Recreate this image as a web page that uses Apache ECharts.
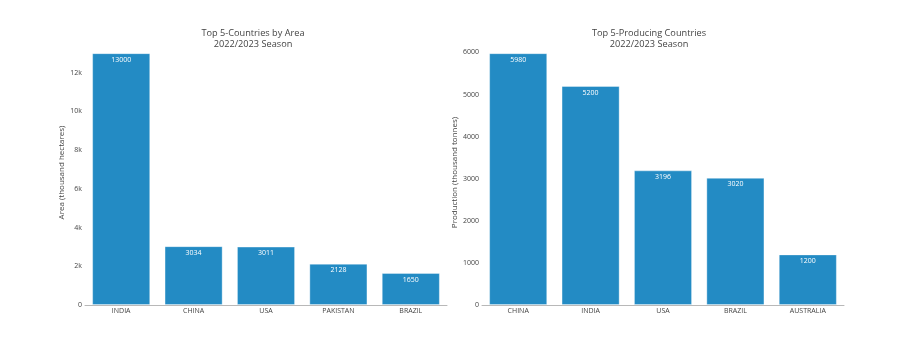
<!DOCTYPE html>
<html><head><meta charset="utf-8">
<script src="https://cdn.jsdelivr.net/npm/echarts@6/dist/echarts.min.js"></script>
<style>html,body{margin:0;padding:0;background:#fff}#c{width:899px;height:347px}</style>
</head><body><div id="c"></div>
<script>
const areaCountries = ['INDIA','CHINA','USA','PAKISTAN','BRAZIL'];
const areaValues = [13000, 3034, 3011, 2128, 1650];
const prodCountries = ['CHINA','INDIA','USA','BRAZIL','AUSTRALIA'];
const prodValues = [5980, 5200, 3196, 3020, 1200];
const titles = ['Top 5-Countries by Area\n2022/2023 Season', 'Top 5-Producing Countries\n2022/2023 Season'];
const yNames = ['Area (thousand hectares)', 'Production (thousand tonnes)'];

const font = '"Open Sans", Verdana, sans-serif';
const barColor = '#238bc4';
const chart = echarts.init(document.getElementById('c'), null, {renderer:'canvas'});
function xAxis(i, cats){
  return {type:'category', gridIndex:i, data:cats,
    axisLine:{lineStyle:{color:'#b8b8b8', width:1}}, axisTick:{show:false},
    axisLabel:{color:'#444', fontSize:7, fontFamily:font, margin:2}};
}
function yAxis(i, max, interval, fmt){
  return {type:'value', gridIndex:i, min:0, max:max, interval:interval,
    axisLine:{show:false}, axisTick:{show:false}, splitLine:{show:false},
    name:yNames[i], nameLocation:'middle', nameGap:19,
    nameTextStyle:{color:'#444', fontSize:8, fontFamily:font},
    axisLabel:{color:'#444', fontSize:7, fontFamily:font, margin:3, formatter:fmt,
      showMaxLabel:false}};
}
function series(i, vals){
  return {type:'bar', xAxisIndex:i, yAxisIndex:i, data:vals, barWidth:'80%',
    itemStyle:{color:barColor, borderColor:'rgba(255,255,255,0.45)', borderWidth:0.8},
    label:{show:true, position:'insideTop', distance:3, color:'#fff', fontSize:7, fontFamily:font},
    emphasis:{disabled:true}, animation:false};
}
const titleStyle = {color:'#444', fontSize:9.2, fontWeight:'normal', fontFamily:font, lineHeight:10.5};
chart.setOption({
  animation:false,
  title:[
    {text:titles[0], left:253, top:28.5, padding:0, textAlign:'center', textStyle:titleStyle},
    {text:titles[1], left:649, top:28.5, padding:0, textAlign:'center', textStyle:titleStyle}
  ],
  grid:[
    {left:85, width:362, top:40, height:265},
    {left:482, width:362, top:40, height:265}
  ],
  xAxis:[xAxis(0, areaCountries), xAxis(1, prodCountries)],
  yAxis:[
    yAxis(0, 13684, 2000, v => v === 0 ? '0' : (v/1000) + 'k'),
    yAxis(1, 6295, 1000, v => String(v))
  ],
  series:[series(0, areaValues), series(1, prodValues)]
});
</script></body></html>
